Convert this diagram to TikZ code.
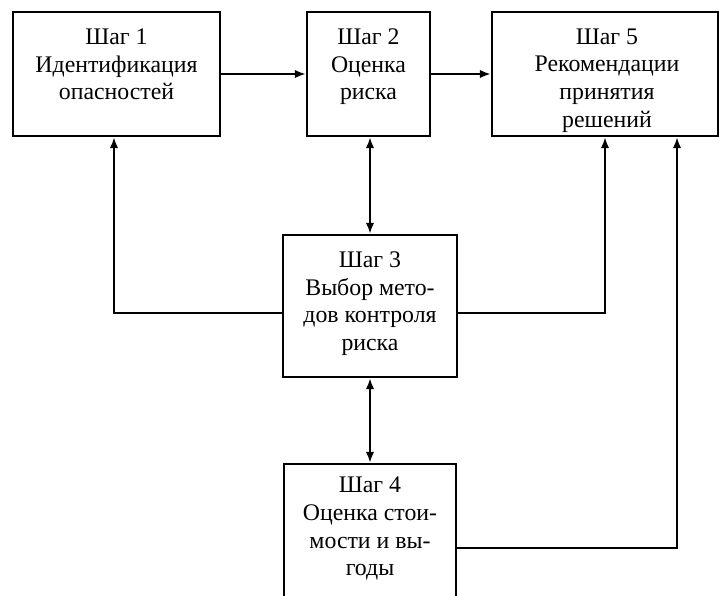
\documentclass[tikz,border=0pt]{standalone}
\usepackage{fontspec}
\setmainfont{Liberation Serif}
\usetikzlibrary{arrows.meta}
\begin{document}
\begin{tikzpicture}[x=1pt,y=-1pt,
  stepbox/.style={draw, line width=2.4pt, rectangle, inner sep=0pt},
  steptext/.style={anchor=north, inner sep=0pt, align=center,
    font=\fontsize{23.8}{27.6}\selectfont},
  tip/.tip={Latex[length=11pt,width=8.5pt]},
  link/.style={line width=2.1pt, -tip},
  blink/.style={line width=2.1pt, tip-tip}]
\useasboundingbox (0,0) rectangle (719,596);
\clip (0,0) rectangle (719,596);
% boxes
\node[stepbox, minimum width=207pt, minimum height=124pt] (s1) at (116.5,74) {};
\node[stepbox, minimum width=123pt, minimum height=124pt] (s2) at (368.5,74) {};
\node[stepbox, minimum width=226pt, minimum height=124pt] (s5) at (605,74) {};
\node[stepbox, minimum width=174pt, minimum height=142pt] (s3) at (370,306) {};
\node[stepbox, minimum width=172pt, minimum height=150pt] (s4) at (370,539) {};
% captions
\node[steptext] (t1) at (116.5,28.5) {Шаг 1\\Идентификация\\опасностей};
\node[steptext] (t2) at (368.5,28.5) {Шаг 2\\Оценка\\риска};
\node[steptext] (t5) at (607,28.5) {Шаг 5\\Рекомендации\\принятия\\решений};
\node[steptext] (t3) at (370,251.5) {Шаг 3\\Выбор мето-\\дов контроля\\риска};
\node[steptext] (t4) at (370,477) {Шаг 4\\Оценка стои-\\мости и вы-\\годы};
% connectors
\draw[link] (s1.east) -- (s2.west);
\draw[link] (s2.east) -- (s5.west);
\draw[blink] (s3.north) -- (s3.north |- s2.south);
\draw[blink] (s4.north) -- (s3.south);
\draw[link] ([yshift=-7pt]s3.west) -| ([xshift=-2.5pt]s1.south);
\draw[link] ([yshift=-7pt]s3.east) -| (s5.south);
\draw[link] ([yshift=-9pt]s4.east) -| ([xshift=72pt]s5.south);
\end{tikzpicture}
\end{document}
